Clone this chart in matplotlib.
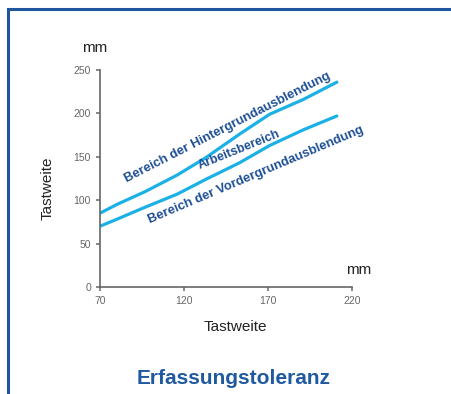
import numpy as np
import matplotlib.pyplot as plt
from matplotlib.lines import Line2D

plt.rcParams['font.family'] = ['Liberation Sans', 'DejaVu Sans']

# Tastweite values (mm)
x_vals = [70, 80, 97, 116, 133, 153, 171, 191, 211]
upper = [85, 95, 110, 129, 149, 176, 199, 216, 236]   # Grenze Hintergrundausblendung
lower = [70, 78, 92, 107, 124, 143, 163, 181, 197]    # Grenze Vordergrundausblendung

x_ticks = [70, 120, 170, 220]
y_ticks = [0, 50, 100, 150, 200, 250]

line_col = '#1cb1e6'
text_col = '#1d4f95'

fig = plt.figure(figsize=(4.52, 3.94), dpi=100)
ax = fig.add_axes([0.2212, 0.2716, 0.5575, 0.5508])

ax.plot(x_vals, upper, color=line_col, lw=2.3, solid_capstyle='round')
ax.plot(x_vals, lower, color=line_col, lw=2.3, solid_capstyle='round')

ax.set_xlim(70, 220)
ax.set_ylim(0, 250)
ax.set_xticks(x_ticks)
ax.set_yticks(y_ticks)
ax.tick_params(colors='#666666', labelsize=7.5, length=3, width=1.1, pad=3.5,
               labelcolor='#666666')
for s in ['top', 'right']:
    ax.spines[s].set_visible(False)
for s in ['left', 'bottom']:
    ax.spines[s].set_color('#666666')
    ax.spines[s].set_linewidth(1.2)

# region labels
ax.text(146, 184, 'Bereich der Hintergrundausblendung', rotation=27, fontsize=9.4,
        fontweight='bold', color=text_col, ha='center', va='center', rotation_mode='anchor')
ax.text(153, 158, 'Arbeitsbereich', rotation=22, fontsize=9,
        fontweight='bold', color=text_col, ha='center', va='center', rotation_mode='anchor')
ax.text(163, 129, 'Bereich der Vordergrundausblendung', rotation=23, fontsize=9.4,
        fontweight='bold', color=text_col, ha='center', va='center', rotation_mode='anchor')

# axis titles and units
fig.text(235 / 452, 1 - 327 / 394, 'Tastweite', fontsize=11, color='#222222',
         ha='center', va='center')
fig.text(48 / 452, 1 - 188 / 394, 'Tastweite', fontsize=11, color='#222222',
         ha='center', va='center', rotation=90)
fig.text(95 / 452, 1 - 48 / 394, 'mm', fontsize=11, color='#222222', ha='center', va='center')
fig.text(359 / 452, 1 - 270 / 394, 'mm', fontsize=11, color='#222222', ha='center', va='center')

# title
fig.text(234 / 452, 1 - 379 / 394, 'Erfassungstoleranz', fontsize=15, fontweight='bold',
         color='#1f5aa0', ha='center', va='center')

# frame (top and left)
frame_col = '#1f559c'
fig.add_artist(Line2D([7.5 / 452, 1], [1 - 8.5 / 394] * 2, color=frame_col, lw=2.2,
                      transform=fig.transFigure))
fig.add_artist(Line2D([7.5 / 452] * 2, [0, 1 - 8.5 / 394], color=frame_col, lw=2.2,
                      transform=fig.transFigure))

plt.savefig('out.png', dpi=100)
